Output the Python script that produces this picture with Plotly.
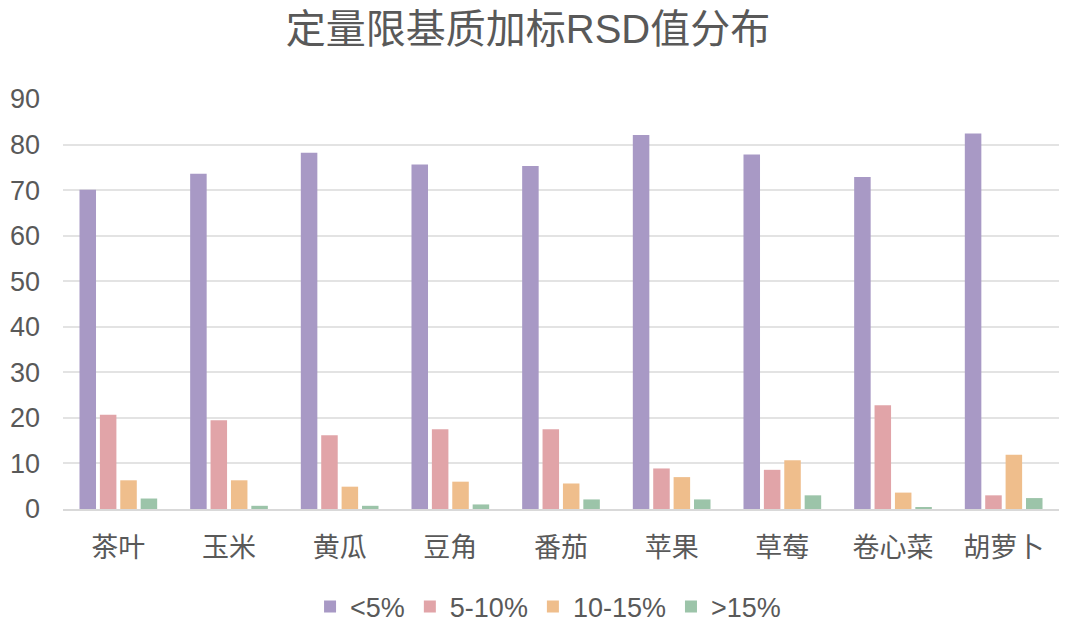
import plotly.graph_objects as go

categories = ["茶叶", "玉米", "黄瓜", "豆角", "番茄", "苹果", "草莓", "卷心菜", "胡萝卜"]
series_names = ["<5%", "5-10%", "10-15%", ">15%"]
lt5 = [70.1, 73.6, 78.2, 75.6, 75.3, 82.1, 77.8, 72.9, 82.4]
p5_10 = [20.7, 19.5, 16.2, 17.5, 17.5, 8.9, 8.6, 22.8, 3.0]
p10_15 = [6.3, 6.3, 4.9, 6.0, 5.6, 7.0, 10.7, 3.6, 11.9]
gt15 = [2.3, 0.7, 0.7, 1.0, 2.1, 2.1, 3.0, 0.4, 2.4]
y_ticks = [0, 10, 20, 30, 40, 50, 60, 70, 80, 90]

colors = ["#A899C5", "#E1A4A8", "#EFBE8C", "#9CC4A9"]
values = [lt5, p5_10, p10_15, gt15]

font_family = "Arial, Liberation Sans, Noto Sans CJK SC, sans-serif"

fig = go.Figure()
for name, vals, c in zip(series_names, values, colors):
    fig.add_trace(go.Bar(x=categories, y=vals, name=name, marker=dict(color=c, line=dict(width=0))))

fig.update_layout(
    width=1080, height=631,
    paper_bgcolor="white", plot_bgcolor="white",
    margin=dict(l=55, r=29, t=91, b=130, autoexpand=False),
    barmode="group", bargap=0.263, bargroupgap=0.19,
    title=dict(text="定量限基质加标RSD值分布", x=0.4815, xanchor="center", y=0.966, yanchor="middle",
               xref="container", yref="container",
               font=dict(family=font_family, size=40, color="#595959")),
    font=dict(family=font_family, color="#595959"),
    legend=dict(orientation="h", x=0.487, xanchor="center", y=-0.239, yanchor="middle",
                font=dict(size=27, color="#595959"), itemwidth=30, traceorder="normal"),
    showlegend=True,
)
fig.update_xaxes(showgrid=False, showline=True, linecolor="#d9d9d9", linewidth=2, automargin=False,
                 ticks="", tickfont=dict(size=27, color="#595959"), ticklabelstandoff=14)
fig.update_yaxes(range=[0, 90], tickvals=y_ticks, showgrid=True, gridcolor="#e3e3e3", gridwidth=2,
                 zeroline=False, showline=False, ticks="", tickfont=dict(size=27, color="#595959"),
                 ticklabelstandoff=22, automargin=False)

fig.write_html("out.html")
